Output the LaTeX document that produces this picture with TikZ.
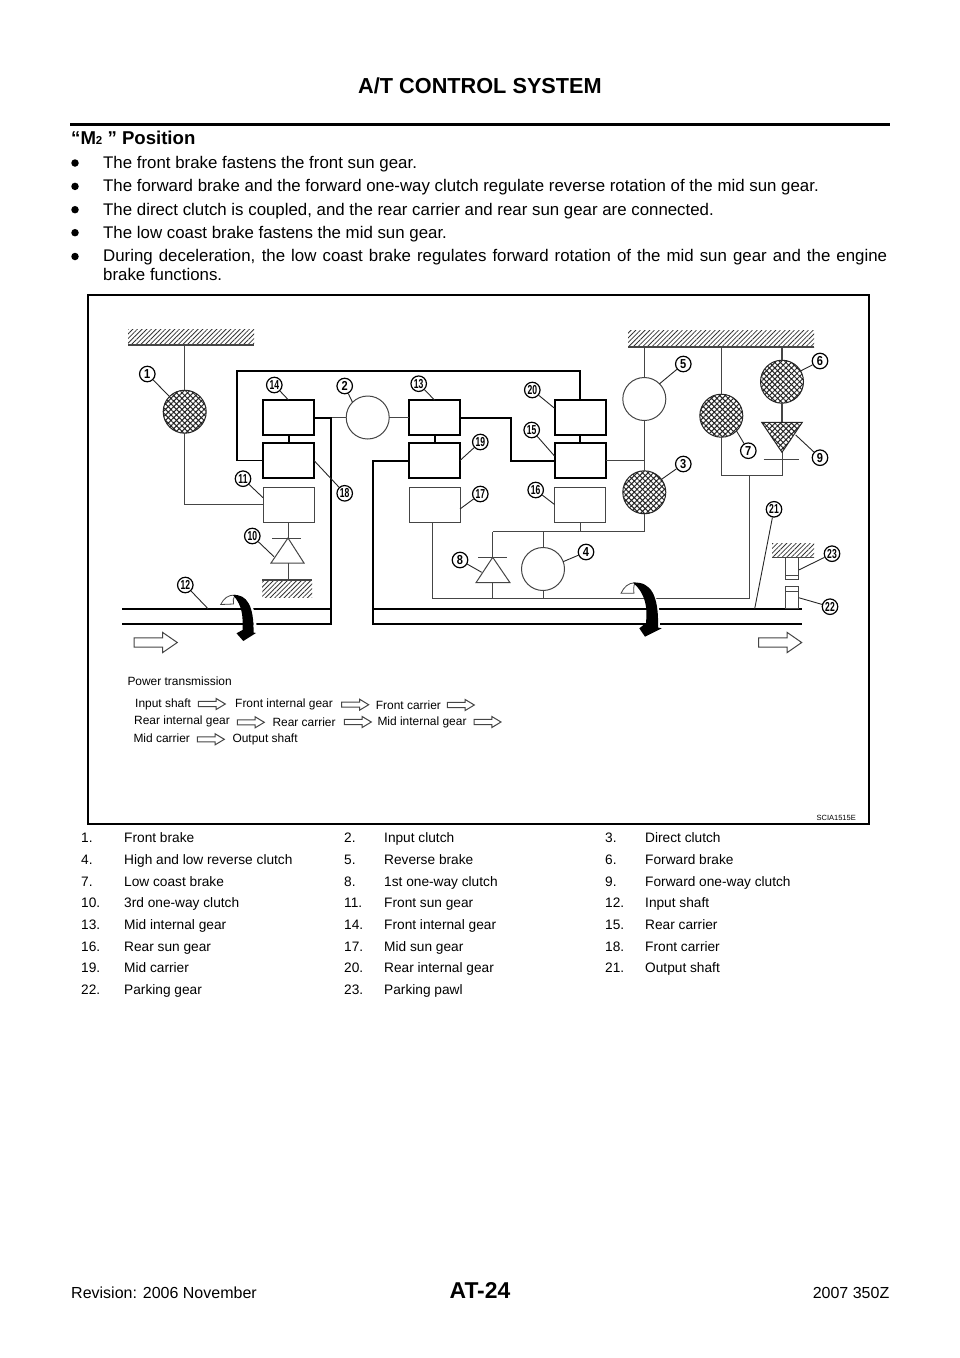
\documentclass[tikz,border=0pt]{standalone}
\usepackage{fontspec}
\setmainfont{Liberation Sans}
\usetikzlibrary{calc,patterns.meta}
\definecolor{thinline}{gray}{0.27}
\tikzset{
  body/.style={anchor=base west,inner sep=0pt,font=\fontsize{16.85}{18.3}\selectfont},
  bullet/.style={circle,fill=black,inner sep=0pt,minimum size=7.5pt},
  thinl/.style={draw=thinline,line width=1pt},
  thickl/.style={draw=black,line width=2pt},
  lead/.style={draw=black!85,line width=0.9pt},
  box/.style={rectangle,minimum width=51pt,minimum height=35pt,inner sep=0pt,outer sep=0pt},
  thinbox/.style={box,thinl},
  thickbox/.style={box,thickl},
  gear/.style={circle,minimum size=43pt,inner sep=0pt,outer sep=0pt,thinl,fill=white},
  gearon/.style={gear,draw=black!85,pattern={Hatch[angle=45,distance=3.9pt,line width=1pt]},pattern color=black!85},
  ground/.style={rectangle,inner sep=0pt,outer sep=0pt,pattern={Lines[angle=45,distance=3.3pt,line width=0.8pt]},pattern color=black!80},
  num/.style={circle,draw=black,line width=1.2pt,fill=white,minimum size=15.5pt,inner sep=0pt,
    font=\fontsize{13}{13}\bfseries\selectfont},
  legend/.style={anchor=west,inner sep=0pt,font=\fontsize{11.95}{13}\selectfont},
  cell/.style={anchor=base west,inner sep=0pt,font=\fontsize{13.7}{15}\selectfont},
  flow/.style={draw=thinline,line width=1pt,fill=white},
  rotflag/.style={draw=thinline,line width=0.8pt,fill=white},
  halo/.style={white,line width=3pt},
}
% block arrow, tail left end at #1, length #2
\newcommand{\blockarrow}[3]{\draw[flow] ($(#1)+(0,-#3*0.42)$) -- ++(#2*0.66,0) -- ++(0,-#3*0.5) -- ($(#1)+(#2,0)$)
  -- ($(#1)+(#2*0.66,#3*0.92)$) -- ++(0,-#3*0.5) -- ($(#1)+(0,#3*0.42)$) -- cycle;}
\begin{document}
\begin{tikzpicture}[x=1pt,y=-1pt]
\useasboundingbox (0,0) rectangle (960,1358);
% page head
\node[anchor=base,inner sep=0pt,font=\fontsize{21.7}{24}\bfseries\selectfont] (title) at (480,93.5) {A/T CONTROL SYSTEM};
\coordinate (ruleL) at (70,124.5);
\coordinate (ruleR) at (889.5,124.5);
\draw[line width=2.4pt] (ruleL) -- (ruleR);
\node[body,font=\fontsize{18.6}{20}\bfseries\selectfont] (head) at (71,144) {“M{\fontsize{11.5}{12}\selectfont 2} ” Position};
\foreach \n/\y/\t in {1/168.3/The front brake fastens the front sun gear.,
  2/191.7/The forward brake and the forward one-way clutch regulate reverse rotation of the mid sun gear.,
  3/215/{The direct clutch is coupled, and the rear carrier and rear sun gear are connected.},
  4/238/The low coast brake fastens the mid sun gear.} {
  \node[body] (line\n) at (103,\y) {\t};
  \node[bullet] (dot\n) at (75,\y-5.3) {};
}
\node[bullet] (dot5) at (75,256.5) {};
\node[body,anchor=base west,text width=784pt,align=justify] (line5) at (103,261.7)
  {During deceleration, the low coast brake regulates forward rotation of the mid sun gear and the engine brake functions.};
% frame
\node[draw,line width=1.3pt,minimum width=781pt,minimum height=529pt,inner sep=0pt] (frame) at (478.5,559.5) {};
% ground strips
\node[ground,minimum width=126pt,minimum height=16pt] (gndA) at (191,337) {};
\node[ground,minimum width=186pt,minimum height=17pt] (gndB) at (721,338.5) {};
\node[ground,minimum width=50pt,minimum height=17pt] (gndC) at (287,588.5) {};
\node[ground,minimum width=42pt,minimum height=14pt] (gndD) at (793,550.7) {};
\draw[thinl,line width=1.2pt] (gndA.south west) -- (gndA.south east);
\draw[thinl,line width=1.2pt] (gndB.south west) -- (gndB.south east);
\draw[thinl,line width=1.2pt] (gndC.north west) -- (gndC.north east);
\draw[thinl,line width=1.2pt] (gndD.south west) -- (gndD.south east);
% boxes
\node[thickbox] (b14) at (288.5,417.5) {};
\node[thickbox] (b18) at (288.5,460.5) {};
\node[thinbox]  (b11) at (288.5,504.5) {};
\node[thickbox] (b13) at (434.5,417.5) {};
\node[thickbox] (b19) at (434.5,460.5) {};
\node[thinbox]  (b17) at (434.5,504.5) {};
\node[thickbox] (b20) at (580,417.5) {};
\node[thickbox] (b15) at (580,460.5) {};
\node[thinbox]  (b16) at (580,504.5) {};
% clutches and brakes
\node[gearon] (c1) at (184.7,411.7) {};
\node[gear]   (c2) at (367.7,417.5) {};
\node[gearon] (c3) at (644.3,492.3) {};
\node[gear]   (c4) at (543,569) {};
\node[gear]   (c5) at (644.3,399) {};
\node[gearon] (c6) at (782,381.7) {};
\node[gearon] (c7) at (721.3,415.7) {};
% junctions
\coordinate (s1) at (122,608.7);
\coordinate (s2) at (331,608.7);
\coordinate (s3) at (122,624);
\coordinate (s4) at (331,624);
\coordinate (s5) at (372.7,608.7);
\coordinate (s6) at (802,608.7);
\coordinate (s7) at (372.7,624);
\coordinate (s8) at (802,624);
\coordinate (top) at (236.7,371);
\coordinate (midT) at (510.7,417.5);
\coordinate (midB) at (510.7,460.5);
\coordinate (jA) at (644.3,531.7);
\coordinate (jB) at (492.7,531.7);
\coordinate (jC) at (749.3,598.3);
\coordinate (jD) at (749.3,475.7);
\coordinate (jE) at (782,475.7);
\coordinate (jF) at (432.7,598.3);
% thin links
\draw[thinl] (c1 |- gndA.south) -- (c1.north);
\draw[thinl] (c1.south) |- (b11.west);
\draw[thinl] (c2.west) -- (s2 |- c2.west);
\draw[thinl] (c2.east) -- (b13.west);
\draw[thinl] (c5.north) -- (c5 |- gndB.south);
\draw[thinl] (c5.south) -- (c3.north);
\draw[thinl] (b15.east) -- (c5 |- b15.east);
\draw[thinl] (c3.south) -- (jA) -- (jB);
\draw[thinl] (b16.south) -- (b16 |- jA);
\draw[thinl] (c4.north) -- (c4 |- jA);
\draw[thinl] (c4.south) -- (c4 |- jF);
\draw[thinl] (b17.south -| jF) -- (jF) -- (jC) -- (jD);
\draw[thinl] (c7.north) -- (c7 |- gndB.south);
\draw[thinl] (c7.south) |- (jE);
\draw[thinl,line width=1.3pt] (c6.north) -- (c6 |- gndB.south);
\draw[thinl,line width=1.3pt] (c6.south) -- (782,422.3);
\draw[thinl] (782,452.3) -- (jE);
% thick links
\draw[thickl] (b14.south) -- (b18.north);
\draw[thickl] (b13.south) -- (b19.north);
\draw[thickl] (b20.south) -- (b15.north);
\draw[thickl,line width=1.6pt] (b18.west) -| (top) -| (b20.north);
\draw[thickl] (b14.east) -| (s4) -- (s3);
\draw[thickl] (s1) -- (s2);
\draw[thickl] (b19.west) -| (s7) -- (s8);
\draw[thickl] (s5) -- (s6);
\draw[thickl] (b13.east) -- (midT) -- (midB) -- (b15.west);
% one-way clutches
\draw[thinl] (b11.south) -- (288.5,538);
\draw[thinl] (272,538) -- (301,538);
\draw[thinl] (288,538) -- (271,563) -- (304,563) -- cycle;
\draw[thinl] (288,563) -- (288,580);
\draw[thinl] (jB) -- (492.7,557.3);
\draw[thinl] (478,557.3) -- (506.7,557.3);
\draw[thinl] (492.7,557.3) -- (476,582.7) -- (510,582.7) -- cycle;
\draw[thinl] (492.7,582.7) -- (492.7,598.3);
\draw[thinl,draw=black!85,pattern={Hatch[angle=45,distance=3.9pt,line width=1pt]},pattern color=black!85]
  (761.7,422.3) -- (802.3,422.3) -- (782,452.3) -- cycle;
\draw[thinl] (763.7,459) -- (799,459);
% parking
\node[thinbox,minimum width=13.4pt,minimum height=22.3pt] (pawl) at (792,568.8) {};
\node[thinbox,minimum width=13.4pt,minimum height=22pt] (pgear) at (792,597.7) {};
\draw[thinl] (785.3,575) -- (798.7,575);
\draw[thinl] (785.3,591.7) -- (798.7,591.7);
% rotation arrows
\draw[halo] (236,590) .. controls (253,600) and (256,618) .. (255,636);
\draw[rotflag] (220.7,604.5) .. controls (224,598) and (228,595) .. (235,595) .. controls (233,598) and (233,601) .. (233.5,604) -- cycle;
\fill[black] (233,595) .. controls (247,594) and (254,606) .. (253.5,632.5) -- (256,633) -- (243.3,641) -- (236.5,633.3)
  -- (242.5,630) .. controls (243,618) and (243,606) .. (233,595) -- cycle;
\draw[halo] (636,578) .. controls (656,590) and (660,608) .. (658,630);
\draw[rotflag] (621,593.3) .. controls (624,587) and (628,583) .. (635,582.7) .. controls (633.5,586) and (633.5,590) .. (634,593.3) -- cycle;
\fill[black] (633,582.7) .. controls (651,581) and (659,596) .. (658,627.5) -- (661.7,628.3) -- (645,636.7) -- (639.3,628.3)
  -- (646,623) .. controls (647.5,608) and (646,594) .. (633,582.7) -- cycle;
% big arrows
\blockarrow{134,642.5}{43.3}{11}
\blockarrow{758.7,642.5}{43}{11}
% power transmission
\node[legend] (power) at (127.3,681.7) {Power transmission};
\foreach \n/\x/\y/\t in {a/135/704/Input shaft,b/235/704/Front internal gear,c/375.7/705/Front carrier,
  d/134/721.7/Rear internal gear,e/272.3/722.7/Rear carrier,f/377.3/722.3/Mid internal gear,
  g/133.3/738.3/Mid carrier,h/232.3/739.3/Output shaft}
  \node[legend] (leg\n) at (\x,\y) {\t};
\foreach \x/\y in {198.3/704,341.7/704.7,447.3/705,237.3/722.3,344.3/722,474/722,197.3/739.3}
  \blockarrow{\x,\y}{27}{6};
\node[anchor=base east,inner sep=0pt,font=\fontsize{7.5}{8}\selectfont] (code) at (856,820) {SCIA1515E};
% numbered marks
\foreach \n/\x/\y in {1/147.3/374,2/344.7/386,3/683.3/464,4/586/552,5/683.3/364,6/820/361,7/748.3/450.7,8/460/560,
  9/820/457.7,10/252.3/536,11/243/478.7,12/185.3/585,13/418.7/383.7,14/274.3/385,15/531.7/430,16/535.7/490,
  17/480.3/494,18/344.7/493.3,19/480.3/442,20/532.3/390,21/774/509.3,22/830/606.7,23/832/553.7}
  \node[num] (n\n) at (\x,\y) {\ifnum\n<10 \scalebox{0.85}[1]{\n}\else\scalebox{0.66}[1]{\n}\fi};
\foreach \a/\b in {n1/c1.135,n2/c2.135,n3/c3.37,n4/c4.20,n5/c5.45,n6/c6.30,n7/c7.-45,n14/b14.north,n13/b13.north,
  n20/b20.160,n15/b15.170,n19/b19.east,n17/b17.-10,n16/b16.west,n18/b18.east,n11/b11.165}
  \draw[lead] (\a) -- (\b);
\coordinate (m8) at (481.7,572.3);
\coordinate (m9) at (795.7,435);
\coordinate (m10) at (274,556.7);
\coordinate (m12) at (208,608.7);
\coordinate (m21) at (754.7,608.7);
\coordinate (m22) at (798.7,597.7);
\coordinate (m23) at (798.7,570);
\foreach \a/\b in {n8/m8,n9/m9,n10/m10,n12/m12,n21/m21,n22/m22,n23/m23}
  \draw[lead] (\a) -- (\b);
% key
\foreach \n/\k/\c/\y/\t in {1/81/124/842.5/Front brake,2/344/384/842.5/Input clutch,3/605/645/842.5/Direct clutch,
  4/81/124/864.5/High and low reverse clutch,5/344/384/864.5/Reverse brake,6/605/645/864.5/Forward brake,
  7/81/124/886/Low coast brake,8/344/384/886/1st one-way clutch,9/605/645/886/Forward one-way clutch,
  10/81/124/907.5/3rd one-way clutch,11/344/384/907.5/Front sun gear,12/605/645/907.5/Input shaft,
  13/81/124/929.5/Mid internal gear,14/344/384/929.5/Front internal gear,15/605/645/929.5/Rear carrier,
  16/81/124/951/Rear sun gear,17/344/384/951/Mid sun gear,18/605/645/951/Front carrier,
  19/81/124/972.5/Mid carrier,20/344/384/972.5/Rear internal gear,21/605/645/972.5/Output shaft,
  22/81/124/994.5/Parking gear,23/344/384/994.5/Parking pawl} {
  \node[cell] (key\n) at (\k,\y) {\n.};
  \node[cell] (txt\n) at (\c,\y) {\t};
}
% page foot
\node[anchor=base,inner sep=0pt,font=\fontsize{22.9}{25}\bfseries\selectfont] (page) at (480,1298.5) {AT-24};
\node[body,font=\fontsize{16}{18}\selectfont] (rev) at (71,1298) {Revision: 2006 November};
\node[body,anchor=base east,font=\fontsize{16}{18}\selectfont] (year) at (889.5,1298) {2007 350Z};
\end{tikzpicture}
\end{document}
